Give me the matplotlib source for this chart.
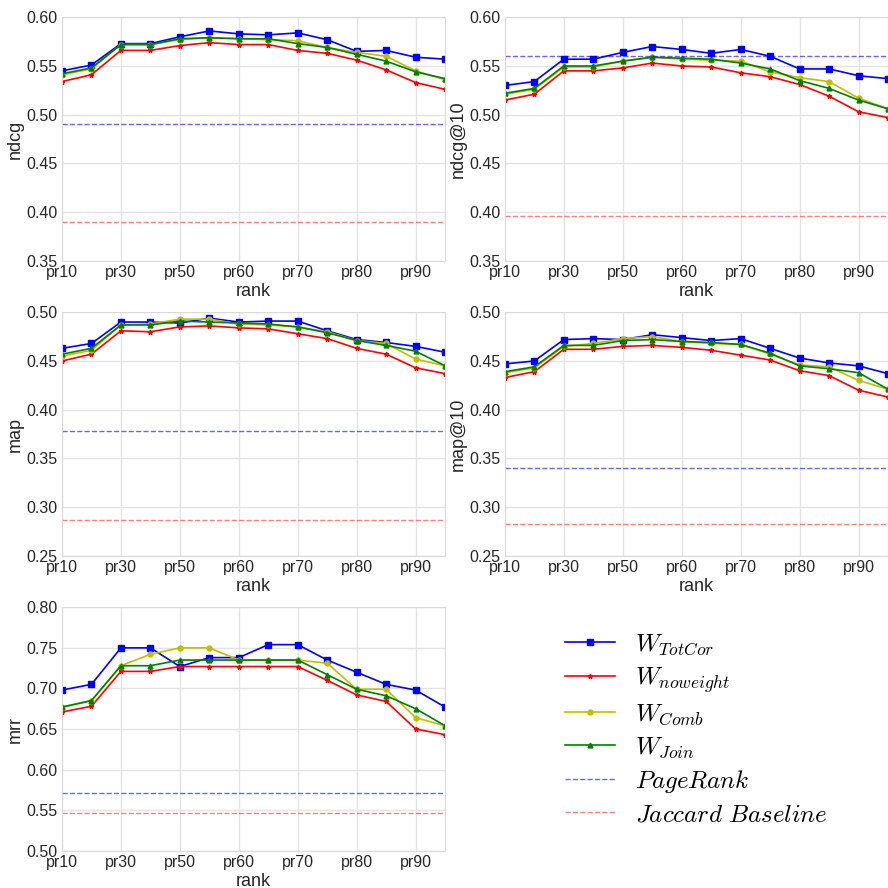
import numpy as np
import matplotlib
matplotlib.use("Agg")
import matplotlib.pyplot as plt

ranks = ["pr10", "pr20", "pr30", "pr40", "pr50", "pr55", "pr60",
         "pr65", "pr70", "pr75", "pr80", "pr85", "pr90", "pr95"]

# ndcg
ndcg_totcor = [0.545, 0.551, 0.573, 0.573, 0.580, 0.586, 0.583, 0.582, 0.584, 0.577, 0.565, 0.566, 0.559, 0.557]
ndcg_noweight = [0.534, 0.541, 0.566, 0.566, 0.571, 0.574, 0.572, 0.572, 0.566, 0.563, 0.556, 0.546, 0.533, 0.526]
ndcg_comb = [0.541, 0.547, 0.572, 0.572, 0.577, 0.579, 0.578, 0.577, 0.576, 0.569, 0.564, 0.560, 0.545, 0.536]
ndcg_join = [0.542, 0.548, 0.572, 0.572, 0.578, 0.579, 0.578, 0.578, 0.573, 0.569, 0.562, 0.555, 0.544, 0.537]
ndcg_pagerank = 0.490
ndcg_jaccard = 0.390

# ndcg@10
ndcg10_totcor = [0.530, 0.534, 0.557, 0.557, 0.564, 0.570, 0.567, 0.563, 0.567, 0.560, 0.547, 0.547, 0.540, 0.537]
ndcg10_noweight = [0.515, 0.521, 0.545, 0.545, 0.548, 0.553, 0.550, 0.549, 0.543, 0.539, 0.531, 0.519, 0.503, 0.497]
ndcg10_comb = [0.521, 0.526, 0.549, 0.549, 0.555, 0.559, 0.557, 0.556, 0.555, 0.544, 0.538, 0.534, 0.517, 0.506]
ndcg10_join = [0.522, 0.527, 0.550, 0.550, 0.555, 0.559, 0.558, 0.557, 0.553, 0.547, 0.535, 0.527, 0.515, 0.506]
ndcg10_pagerank = 0.560
ndcg10_jaccard = 0.396

# map
map_totcor = [0.463, 0.468, 0.490, 0.490, 0.489, 0.494, 0.490, 0.491, 0.491, 0.481, 0.472, 0.469, 0.465, 0.459]
map_noweight = [0.450, 0.457, 0.481, 0.480, 0.485, 0.486, 0.484, 0.483, 0.478, 0.473, 0.463, 0.457, 0.443, 0.437]
map_comb = [0.455, 0.461, 0.487, 0.488, 0.493, 0.493, 0.488, 0.487, 0.485, 0.480, 0.471, 0.468, 0.452, 0.445]
map_join = [0.457, 0.463, 0.487, 0.487, 0.491, 0.490, 0.489, 0.488, 0.485, 0.479, 0.471, 0.466, 0.460, 0.445]
map_pagerank = 0.378
map_jaccard = 0.287

# map@10
map10_totcor = [0.447, 0.450, 0.472, 0.473, 0.472, 0.477, 0.474, 0.471, 0.473, 0.463, 0.453, 0.448, 0.445, 0.437]
map10_noweight = [0.433, 0.439, 0.462, 0.462, 0.465, 0.466, 0.464, 0.461, 0.456, 0.451, 0.440, 0.435, 0.420, 0.413]
map10_comb = [0.438, 0.443, 0.465, 0.468, 0.473, 0.475, 0.470, 0.468, 0.467, 0.457, 0.446, 0.444, 0.430, 0.421]
map10_join = [0.439, 0.444, 0.466, 0.466, 0.471, 0.472, 0.470, 0.469, 0.467, 0.458, 0.445, 0.442, 0.438, 0.421]
map10_pagerank = 0.340
map10_jaccard = 0.283

# mrr
mrr_totcor = [0.698, 0.705, 0.750, 0.750, 0.727, 0.738, 0.738, 0.754, 0.754, 0.735, 0.720, 0.705, 0.698, 0.677]
mrr_noweight = [0.671, 0.678, 0.721, 0.721, 0.727, 0.727, 0.727, 0.727, 0.727, 0.710, 0.692, 0.684, 0.650, 0.643]
mrr_comb = [0.677, 0.685, 0.728, 0.742, 0.750, 0.750, 0.735, 0.735, 0.735, 0.731, 0.699, 0.699, 0.664, 0.654]
mrr_join = [0.677, 0.685, 0.728, 0.728, 0.735, 0.735, 0.735, 0.735, 0.735, 0.717, 0.699, 0.691, 0.675, 0.654]
mrr_pagerank = 0.571
mrr_jaccard = 0.547

panels = [
    ("ndcg", ndcg_totcor, ndcg_noweight, ndcg_comb, ndcg_join, ndcg_pagerank, ndcg_jaccard, (0.35, 0.60)),
    ("ndcg@10", ndcg10_totcor, ndcg10_noweight, ndcg10_comb, ndcg10_join, ndcg10_pagerank, ndcg10_jaccard, (0.35, 0.60)),
    ("map", map_totcor, map_noweight, map_comb, map_join, map_pagerank, map_jaccard, (0.25, 0.50)),
    ("map@10", map10_totcor, map10_noweight, map10_comb, map10_join, map10_pagerank, map10_jaccard, (0.25, 0.50)),
    ("mrr", mrr_totcor, mrr_noweight, mrr_comb, mrr_join, mrr_pagerank, mrr_jaccard, (0.50, 0.80)),
]

plt.rcParams["font.family"] = ["Liberation Sans", "DejaVu Sans"]
plt.rcParams["mathtext.fontset"] = "cm"

fig, axes = plt.subplots(3, 2, figsize=(8.88, 8.88), dpi=100)
fig.subplots_adjust(left=0.0698, right=1.0, bottom=0.042, top=0.9805,
                    wspace=0.156, hspace=0.212)

x = np.arange(len(ranks))
handles = None
for ax, (name, tot, now, comb, join, pr, jac, ylim) in zip(axes.flat, panels):
    h1, = ax.plot(x, tot, color="b", marker="s", markersize=4.5, lw=1.2, label=r"$W_{TotCor}$")
    h2, = ax.plot(x, now, color="r", marker="*", markersize=3.5, lw=1.2, label=r"$W_{noweight}$")
    h3, = ax.plot(x, comb, color="y", marker="o", markersize=3.5, lw=1.2, label=r"$W_{Comb}$")
    h4, = ax.plot(x, join, color="g", marker="^", markersize=3.5, lw=1.2, label=r"$W_{Join}$")
    h5 = ax.axhline(pr, color="b", ls="--", lw=1, alpha=0.6, label=r"$PageRank$")
    h6 = ax.axhline(jac, color="r", ls="--", lw=1, alpha=0.5, label=r"$Jaccard\ Baseline$")
    handles = [h1, h2, h3, h4, h5, h6]

    ax.set_xlim(0, len(ranks) - 1)
    ax.set_ylim(*ylim)
    ax.set_yticks(np.arange(ylim[0], ylim[1] + 0.001, 0.05))
    ax.yaxis.set_major_formatter(matplotlib.ticker.FormatStrFormatter("%.2f"))
    ax.set_xticks(x[::2])
    ax.set_xticklabels(ranks[::2])
    ax.set_xlabel("rank", fontsize=13, color="#262626", labelpad=2)
    ax.set_ylabel(name, fontsize=13, color="#262626", labelpad=2)
    ax.tick_params(length=0, labelsize=11.5, colors="#262626", pad=3)
    ax.grid(True, color="#e3e3e3", lw=1)
    ax.set_axisbelow(True)
    for s in ax.spines.values():
        s.set_color("#d9d9d9")

leg_ax = axes[2, 1]
leg_ax.axis("off")
leg_ax.legend(handles=handles, loc="center", frameon=False, fontsize=18,
              numpoints=1, labelspacing=0.3, handletextpad=0.8)

fig.savefig("out.png", dpi=100)
